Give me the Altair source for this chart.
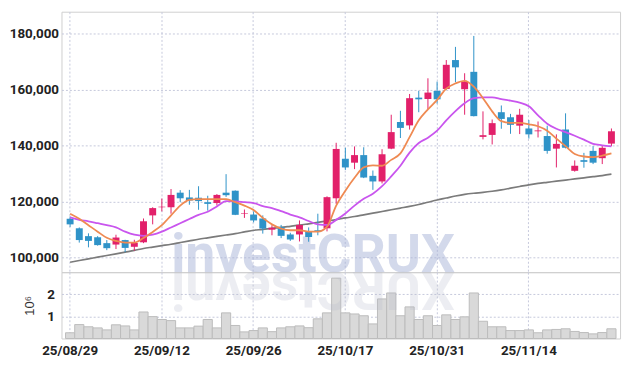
import altair as alt
import pandas as pd

dates = ["25/08/29","25/09/01","25/09/02","25/09/03","25/09/04","25/09/05","25/09/08","25/09/09","25/09/10","25/09/11",
         "25/09/12","25/09/15","25/09/16","25/09/17","25/09/18","25/09/19","25/09/22","25/09/23","25/09/24","25/09/25",
         "25/09/26","25/09/29","25/09/30","25/10/01","25/10/02","25/10/10","25/10/13","25/10/14","25/10/15","25/10/16",
         "25/10/17","25/10/20","25/10/21","25/10/22","25/10/23","25/10/24","25/10/27","25/10/28","25/10/29","25/10/30",
         "25/10/31","25/11/03","25/11/04","25/11/05","25/11/06","25/11/07","25/11/10","25/11/11","25/11/12","25/11/13",
         "25/11/14","25/11/17","25/11/18","25/11/19","25/11/20","25/11/21","25/11/24","25/11/25","25/11/26","25/11/27"]

open_ = [113900,110500,107700,107300,105200,104700,106300,103900,105500,115100,
         118000,118000,123200,121500,121400,119800,119500,123200,123900,115600,
         115400,114000,110000,111000,108300,108300,109200,109800,110500,121200,
         135300,133900,136600,129200,127200,138900,148400,147200,157100,156600,
         159500,160200,170500,160100,166300,143100,143800,151900,150100,147100,
         146100,145100,143400,138900,145700,131000,134800,138100,135500,140700]
high = [114700,110800,108700,107700,106300,108200,106400,106400,114000,118000,
        121100,124500,124100,124200,125500,122100,122700,129800,124000,117200,
        116500,115100,111600,111700,108900,113300,110800,115700,121900,141000,
        139200,139700,139400,131100,138700,151000,152400,158400,159500,164000,
        162800,170500,175200,165800,179100,152200,149300,154300,151300,153100,
        149100,148600,147100,144000,151500,134700,137400,139800,139800,146100]
low = [111000,105400,103700,104300,102700,103100,102000,102500,105200,111900,
       116500,115700,119800,118900,117100,116800,118600,121700,115200,114200,
       112600,108600,108000,107000,106000,105800,105700,108000,109400,119200,
       131300,131600,128400,124200,126500,138700,142700,145700,151900,153000,
       155000,159900,162600,151000,150400,142200,140400,146000,144200,144100,
       142500,142900,137100,132200,139000,130700,132100,133400,133400,139800]
close = [111900,106300,106000,104500,103400,107200,103500,105300,113000,117700,
         118200,122400,121200,120400,120200,119200,122400,122300,115300,115800,
         113300,110400,110700,107800,106500,111700,107400,109200,121600,138800,
         132200,136600,128600,127200,136900,144800,146300,156900,156500,158900,
         156500,168800,167900,162800,150500,143700,148000,149500,147400,151000,
         144000,145400,138100,140600,139200,132800,134200,133900,139200,145100]
ma5 = [115700,113900,111600,109300,107100,106000,105400,105400,107000,109200,
       111600,115100,118600,120600,120900,120900,120900,120900,119800,118600,
       117000,114200,111900,110400,109800,109800,109300,109300,111100,118600,
       123900,128500,132200,132900,132800,134900,137200,143000,149000,152900,
       156300,160300,162200,163100,161000,156900,152200,148700,148100,148100,
       147600,146900,145300,142500,139800,137000,136100,135900,136400,137200]
ma10 = [114400,113500,113000,112300,111600,110800,109300,108200,107800,108200,
        109300,110800,112300,113800,115300,116400,118300,120200,120100,119800,
        119500,118400,117700,116600,115400,114400,113100,111900,111700,113500,
        115800,118600,121000,122800,125500,129000,132800,137500,140900,142800,
        145300,149000,152300,155100,156900,157200,157200,156600,156000,155300,
        154000,150800,147800,146000,144800,143500,142100,140600,140100,139700]
ma_long = [98400,99000,99600,100200,100800,101400,102000,102600,103300,103800,
           104300,104800,105400,106000,106600,107100,107600,108100,108600,109200,
           109800,110100,110500,110800,111200,111600,112100,112600,113100,113600,
           114200,114700,115300,115900,116500,117100,117700,118300,119000,119800,
           120600,121300,122000,122600,123000,123300,123700,124200,124800,125400,
           126000,126500,126900,127300,127700,128100,128500,128900,129300,129800]
volume_m = [0.26,0.63,0.53,0.48,0.39,0.62,0.57,0.39,1.20,0.99,
            0.86,0.81,0.48,0.48,0.56,0.86,0.48,1.16,0.59,0.30,
            0.36,0.48,0.31,0.48,0.53,0.57,0.49,0.89,1.16,2.73,
            1.16,1.11,1.03,0.66,1.79,2.06,1.03,1.43,0.86,1.03,
            0.59,1.07,0.86,0.98,2.06,0.78,0.53,0.53,0.36,0.36,
            0.39,0.26,0.39,0.41,0.44,0.32,0.27,0.21,0.27,0.44]
tick_dates = ["25/08/29","25/09/12","25/09/26","25/10/17","25/10/31","25/11/14"]
price_ticks = [100000,120000,140000,160000,180000]
vol_ticks = [1,2]

df = pd.DataFrame({"date": dates, "open": open_, "high": high, "low": low,
                   "close": close, "ma5": ma5, "ma10": ma10, "malong": ma_long,
                   "vol": volume_m})
df["dir"] = ["up" if c >= o else "down" for o, c in zip(open_, close)]

RED = "#e2206a"
BLUE = "#2f93c8"
GRID = "#c5c8dc"
LABEL_FONT = "Roboto"
W = 564

color = alt.Color("dir:N", scale=alt.Scale(domain=["up", "down"], range=[RED, BLUE]), legend=None)
xscale = alt.Scale(paddingInner=0, paddingOuter=0.44)

x_top = alt.X("date:O", sort=None, scale=xscale,
              axis=alt.Axis(values=tick_dates, labels=False, ticks=False, domain=False, title=None,
                            grid=True, gridDash=[2, 2], gridColor=GRID, bandPosition=0.5))
price_scale = alt.Scale(domain=[94850, 187750], nice=False, zero=False)
price_axis = alt.Axis(values=price_ticks, format=",.0f", title=None, ticks=False, domain=False,
                      labelPadding=3, gridDash=[2, 2], gridColor=GRID)


def yq(field):
    return alt.Y(field, type="quantitative", scale=price_scale, axis=price_axis, title=None)


base = alt.Chart(df).encode(x=x_top)

wm = alt.Chart(pd.DataFrame({"t": ["investCRUX"]})).mark_text(
    font="Roboto", fontWeight="bold", fontSize=54, color="#a9b4d8", opacity=0.5,
    align="center", baseline="alphabetic"
).encode(text="t:N", x=alt.value(254), y=alt.value(263))

wick = base.mark_rule(strokeWidth=1).encode(y=yq("low"), y2="high:Q", color=color)
body = base.mark_bar(size=7).encode(y=yq("open"), y2="close:Q", color=color)
l_long = base.mark_line(color="#7b7b7b", strokeWidth=1.7, interpolate="monotone").encode(y=yq("malong"))
l10 = base.mark_line(color="#c955ee", strokeWidth=1.8, interpolate="monotone").encode(y=yq("ma10"))
l5 = base.mark_line(color="#ef8a52", strokeWidth=1.8, interpolate="monotone").encode(y=yq("ma5"))

top = alt.layer(wm, l_long, wick, body, l10, l5).properties(width=W, height=263)

x_bot = alt.X("date:O", sort=None, scale=xscale,
              axis=alt.Axis(values=tick_dates, ticks=False, domain=False, title=None, labelAngle=0,
                            labelPadding=5, grid=True, gridDash=[2, 2], gridColor=GRID, bandPosition=0.5))
y_bot = alt.Y("vol:Q", scale=alt.Scale(domain=[0, 3], nice=False),
              axis=alt.Axis(values=vol_ticks, title="10⁶", ticks=False, domain=False, labelPadding=7,
                            titlePadding=10, titleFont="Liberation Sans", titleFontWeight="normal",
                            titleFontSize=13, titleColor="#333", gridDash=[2, 2], gridColor=GRID))

vol = alt.Chart(df).mark_bar(color="#d9d9d9", stroke="#bcbcbc", strokeWidth=1).encode(x=x_bot, y=y_bot)
wm2 = alt.Chart(pd.DataFrame({"t": ["XURCtsevni"]})).mark_text(
    font="Roboto", fontWeight="bold", fontSize=54, color="#b8bccc", opacity=0.25,
    align="center", baseline="alphabetic", angle=180
).encode(text="t:N", x=alt.value(254), y=alt.value(0))

bottom = alt.layer(vol, wm2).properties(width=W, height=67)

chart = alt.vconcat(top, bottom, spacing=0, bounds="flush").properties(
    padding={"left": 0, "top": 1, "right": 5, "bottom": 5}
).configure_view(stroke="#cfcfcf").configure_axis(
    labelFont=LABEL_FONT, labelFontSize=13.5, labelFontWeight="bold", labelColor="#222"
)

chart.save("out.html", embed_options={"renderer": "svg", "actions": False})
